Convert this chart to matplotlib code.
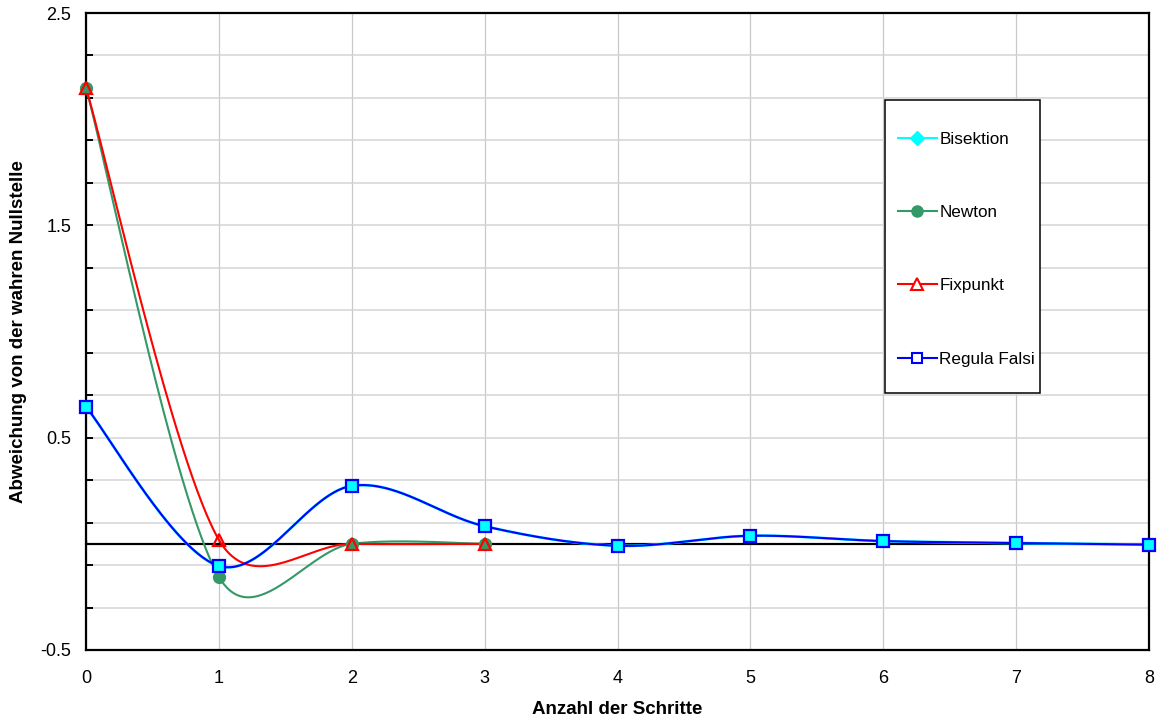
import numpy as np
import matplotlib
matplotlib.use("Agg")
import matplotlib.pyplot as plt
from matplotlib.lines import Line2D
from matplotlib.patches import Rectangle

plt.rcParams['font.family'] = ['Liberation Sans', 'DejaVu Sans']

# Deviation from the true root after each iteration step
steps_newton = [0, 1, 2, 3]
newton = [2.148, -0.155, 0.0, 0.0]

steps_fix = [0, 1, 2, 3]
fixpunkt = [2.148, 0.019, 0.0, 0.0]

steps_rf = [0, 1, 2, 3, 4, 5, 6, 7, 8]
regula_falsi = [0.645, -0.104, 0.273, 0.083, -0.009, 0.038, 0.013, 0.004, -0.004]

steps_bis = steps_rf
bisektion = regula_falsi

series_labels = ["Bisektion", "Newton", "Fixpunkt", "Regula Falsi"]
x_ticks = list(range(0, 9))
y_ticklabels = {-0.5: "-0.5", 0.5: "0.5", 1.5: "1.5", 2.5: "2.5"}

W, H = 1159, 722
fig = plt.figure(figsize=(W / 100, H / 100), dpi=100)
ax = fig.add_axes([86 / W, 1 - 650 / H, 1063 / W, 637 / H])
ax.set_xlim(0, 8)
ax.set_ylim(-0.5, 2.5)


def smooth(ax, xs, ys, n=60):
    """Bezier smoothing of a polyline in display space (spreadsheet style)."""
    pts = ax.transData.transform(np.column_stack([xs, ys]))
    out = [pts[0]]
    m = len(pts)
    for i in range(m - 1):
        p0 = pts[i - 1] if i > 0 else pts[i]
        p1 = pts[i]
        p2 = pts[i + 1]
        p3 = pts[i + 2] if i + 2 < m else pts[i + 1]
        d02 = np.hypot(*(p2 - p0))
        d12 = np.hypot(*(p2 - p1))
        d13 = np.hypot(*(p3 - p1))
        f = 1 / 6
        f0 = f if d02 / 6 < d12 / 2 or d02 == 0 else d12 / (2 * d02)
        f1 = f if d13 / 6 < d12 / 2 or d13 == 0 else d12 / (2 * d13)
        b1 = p1 + (p2 - p0) * f0
        b2 = p2 - (p3 - p1) * f1
        t = np.linspace(0, 1, n)[1:, None]
        seg = ((1 - t) ** 3) * p1 + 3 * t * (1 - t) ** 2 * b1 \
            + 3 * t ** 2 * (1 - t) * b2 + t ** 3 * p2
        out.extend(seg)
    out = np.array(out)
    data = ax.transData.inverted().transform(out)
    return data[:, 0], data[:, 1]


# Grid
grid_c = '#c8c8c8'
for x in x_ticks:
    ax.axvline(x, color=grid_c, lw=0.9, zorder=0)
yt = np.round(np.arange(-0.5, 2.5001, 0.2), 2)
for y in yt:
    ax.axhline(y, color='#d4d4d4', lw=1.1, zorder=0)

# Zero line with small tick marks
sec = ax.secondary_xaxis(0.5 / 3)
sec.set_xticks(x_ticks)
sec.tick_params(direction='in', length=3, width=1, labelbottom=False, labeltop=False,
                color='black')
sec.spines['bottom'].set_linewidth(1.5)
sec.spines['bottom'].set_color('black')
ax.axhline(0, color='black', lw=1.5, zorder=1)

lw = 1.5
# Bisektion (same course as Regula Falsi, drawn underneath)
xs, ys = smooth(ax, steps_bis, bisektion)
ax.plot(xs, ys, color='#00ffff', lw=lw + 0.5, zorder=2)
ax.plot(steps_bis, bisektion, ls='none', marker='s', ms=7.5, color='#00ffff', zorder=6,
        clip_on=False)

# Newton
xs, ys = smooth(ax, steps_newton, newton)
ax.plot(xs, ys, color='#339966', lw=lw, zorder=3)
ax.plot(steps_newton, newton, ls='none', marker='o', ms=8.5, color='#339966', zorder=4,
        clip_on=False)

# Fixpunkt
xs, ys = smooth(ax, steps_fix, fixpunkt)
ax.plot(xs, ys, color='#ff0000', lw=lw, zorder=3)
ax.plot(steps_fix, fixpunkt, ls='none', marker='^', ms=9, mfc='none', mec='#ff0000',
        mew=1.6, zorder=5, clip_on=False)

# Regula Falsi
xs, ys = smooth(ax, steps_rf, regula_falsi)
ax.plot(xs, ys, color='#0000ff', lw=lw, zorder=3)
ax.plot(steps_rf, regula_falsi, ls='none', marker='s', ms=8, mfc='none', mec='#0000ff',
        mew=1.6, zorder=7, clip_on=False)

# Axes styling
for s in ax.spines.values():
    s.set_linewidth(1.6)
    s.set_color('black')
ax.set_xticks(x_ticks)
ax.set_xticklabels([str(x) for x in x_ticks])
ax.set_yticks(yt)
ax.set_yticklabels([y_ticklabels.get(round(float(v), 1), "") for v in yt])
ax.tick_params(axis='x', length=0, pad=14.5, labelsize=13)
ax.tick_params(axis='y', direction='in', length=5, width=1.4, pad=10.5, labelsize=13)

ax.set_xlabel("Anzahl der Schritte", fontsize=13.5, fontweight='bold')
ax.xaxis.set_label_coords(0.5, -(710 - 650) / 637)
ax.xaxis.label.set_va('center')
ax.set_ylabel("Abweichung von der wahren Nullstelle", fontsize=13.5, fontweight='bold')
ax.yaxis.set_label_coords((19 - 86) / 1063, 0.5)
ax.yaxis.label.set_va('center')
ax.yaxis.label.set_ha('center')

# Legend
handles = [
    Line2D([], [], color='#00ffff', lw=lw, marker='D', ms=7, mfc='#00ffff', mec='#00ffff'),
    Line2D([], [], color='#339966', lw=lw, marker='o', ms=8, mfc='#339966', mec='#339966'),
    Line2D([], [], color='#ff0000', lw=lw, marker='^', ms=8, mfc='white', mec='#ff0000', mew=1.5),
    Line2D([], [], color='#0000ff', lw=lw, marker='s', ms=7, mfc='white', mec='#0000ff', mew=1.5),
]
leg = fig.legend(handles, series_labels, loc='upper left',
                 bbox_to_anchor=(889 / W, 1 - 123 / H), frameon=False, fontsize=12.3,
                 borderpad=0, handlelength=2.3, handletextpad=0.15, labelspacing=3.42,
                 numpoints=1)
leg.set_zorder(10)
fig.add_artist(Rectangle((885 / W, 1 - 393 / H), 155 / W, 293 / H, transform=fig.transFigure,
                         facecolor='white', edgecolor='black', lw=1.1, zorder=5))

fig.savefig("out.png", dpi=100)
